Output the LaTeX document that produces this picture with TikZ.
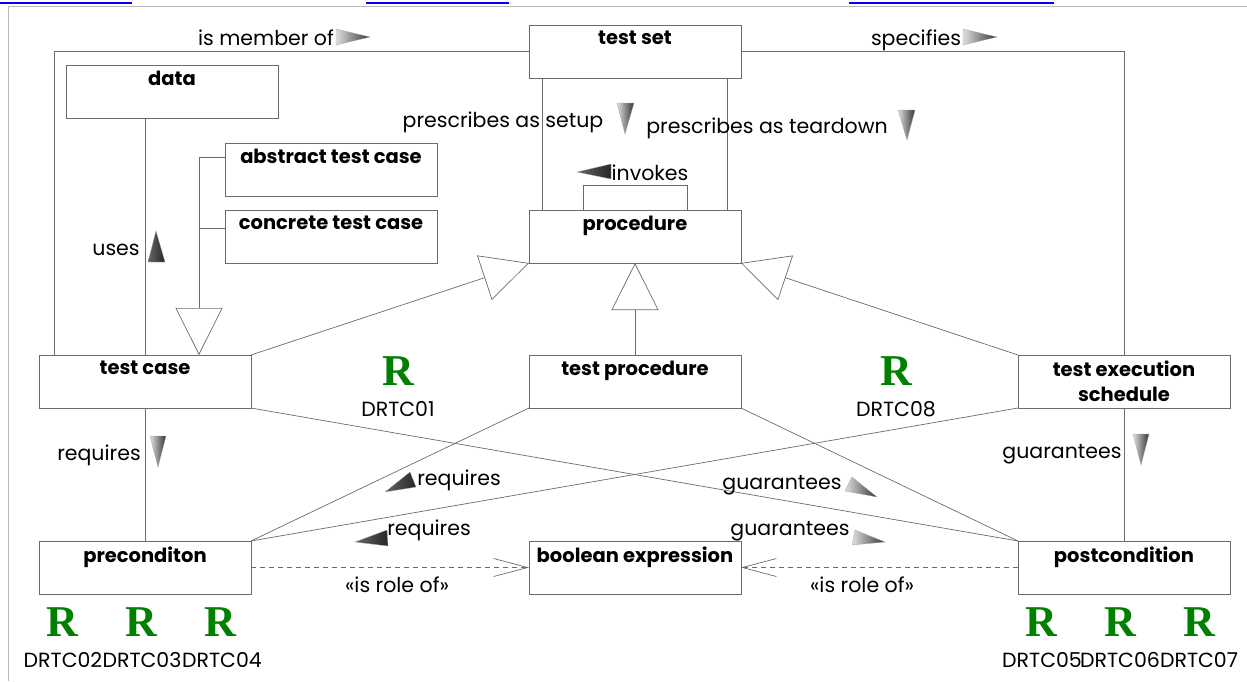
\documentclass[tikz,border=0pt]{standalone}
\usepackage{fontspec}
\setmainfont{Poppins}
\newfontfamily\rfont{Liberation Serif}
\usetikzlibrary{arrows.meta,calc}
\definecolor{lc}{gray}{0.42}
\definecolor{rgreen}{RGB}{0,128,0}
\begin{document}
\begin{tikzpicture}[x=1pt,y=-1pt,
  box/.style={draw=lc, line width=0.9pt, minimum width=212pt, minimum height=53pt, anchor=north west, inner sep=0pt, outer sep=0pt},
  ttl/.style={anchor=north, font=\fontsize{19.5}{25}\selectfont\bfseries, yshift=-6pt, align=center, inner sep=0pt},
  lbl/.style={font=\fontsize{20.5}{24}\selectfont, inner sep=0pt, text height=15pt, text depth=4pt, yshift=-2pt},
  conn/.style={draw=lc, line width=0.7pt},
  gen/.style={conn, -{Triangle[open, length=47pt, width=47pt, fill=white]}},
  role/.style={conn, dash pattern=on 5pt off 4pt, -{Straight Barb[length=34pt, width=18pt, line width=0.7pt]}},
  dirtri/.style={draw=gray!70, line width=0.3pt, left color=gray!25, right color=black!80},
  dirtrl/.style={draw=gray!70, line width=0.3pt, left color=black!60, right color=black!85},
  rmark/.style={text=rgreen, font=\rfont\bfseries\fontsize{44}{44}\selectfont, inner sep=0pt},
]
\useasboundingbox (0,0) rectangle (1247,681);
% page frame and cut-off links
\draw[gray!55, line width=1pt] (8,681) -- (8,6) -- (1247,6);
\draw[blue, line width=2pt] (0,3) -- (132,3) (366,3) -- (509,3) (849,3) -- (1054,3);

% boxes
\node[box, label={[ttl]north:test set}] (ts) at (529,25) {};
\node[box, label={[ttl]north:data}] (data) at (66,65) {};
\node[box, label={[ttl]north:abstract test case}] (abs) at (225,143) {};
\node[box, label={[ttl]north:concrete test case}] (conc) at (225,210) {};
\node[box, label={[ttl]north:procedure}] (proc) at (529,210) {};
\node[box, label={[ttl]north:test case}] (tc) at (39,355) {};
\node[box, label={[ttl]north:test procedure}] (tp) at (529,355) {};
\node[box, label={[ttl]north:{test execution\\schedule}}] (tes) at (1018,355) {};
\node[box, label={[ttl]north:preconditon}] (pre) at (39,541) {};
\node[box, label={[ttl]north:boolean expression}] (be) at (529,541) {};
\node[box, label={[ttl]north:postcondition}] (post) at (1018,541) {};

% associations
\draw[conn] ($(tc.north west)+(15,0)$) |- (ts.west);
\draw[conn] (ts.east) -| (tes.north);
\draw[conn] (tc.north) -- (tc.north |- data.south);
\draw[conn] ($(ts.south west)+(13,0)$) -- ($(proc.north west)+(13,0)$);
\draw[conn] ($(ts.south east)+(-14,0)$) -- ($(proc.north east)+(-14,0)$);
\draw[conn] ($(proc.north west)+(54,0)$) -- ++(0,-25) -| ($(proc.north west)+(158,0)$);
\draw[conn] (tc.south) -- (pre.north);
\draw[conn] (tes.south) -- (post.north);
\draw[conn] (tp.south west) -- (pre.north east);
\draw[conn] (tes.south west) -- (pre.north east);
\draw[conn] (tc.south east) -- (post.north west);
\draw[conn] (tp.south east) -- (post.north west);

% generalizations
\draw[gen] (tc.north east) -- (proc.south west);
\draw[gen] (tp.north) -- (proc.south);
\draw[gen] (tes.north west) -- (proc.south east);
\draw[gen] ($(abs.north west)+(0,14)$) -| ($(tc.north west)+(160,0)$);
\draw[conn] ($(conc.north west)+(0,18)$) -- ++(-26,0);

% is role of
\draw[role] (pre.east) -- (be.west);
\draw[role] (post.west) -- (be.east);

% labels
\node[lbl] (l1) at (266,38) {is member of};
\node[lbl] (l2) at (916,38) {specifies};
\node[lbl] (l3) at (503,120) {prescribes as setup};
\node[lbl] (l4) at (767,126) {prescribes as teardown};
\node[lbl] (l5) at (650,173) {invokes};
\node[lbl] (l6) at (116,248) {uses};
\node[lbl] (l7) at (99,453) {requires};
\node[lbl] (l8) at (1062,451) {guarantees};
\node[lbl] (l9) at (459,478) {requires};
\node[lbl] (l10) at (429,528) {requires};
\node[lbl] (l11) at (782,482) {guarantees};
\node[lbl] (l12) at (790,528) {guarantees};
\node[lbl] (l13) at (397,585) {«is role of»};
\node[lbl] (l14) at (862,585) {«is role of»};

% direction triangles
\path[dirtri] (336,29) -- (370,37) -- (336,45) -- cycle;
\path[dirtri] (963,29) -- (997,37) -- (963,45) -- cycle;
\path[dirtri] (617,103) -- (634,103) -- (625,134) -- cycle;
\path[dirtri] (898,110) -- (915,110) -- (907,140) -- cycle;
\path[dirtrl] (611,164) -- (577,172) -- (611,179) -- cycle;
\path[dirtrl] (148,262) -- (156,231) -- (165,262) -- cycle;
\path[dirtri] (150,436) -- (166,436) -- (158,467) -- cycle;
\path[dirtri] (1133,434) -- (1149,434) -- (1141,465) -- cycle;
\path[dirtrl] (385,492) -- (410,472) -- (416,487) -- cycle;
\path[dirtrl] (355,542) -- (387,530) -- (388,546) -- cycle;
\path[dirtri] (845,491) -- (852,477) -- (877,497) -- cycle;
\path[dirtri] (852,545) -- (855,530) -- (885,542) -- cycle;

% requirement marks
\node[rmark] (r1) at (398,371) {R};
\node[lbl] (d1) at (398,409) {DRTC01};
\node[rmark] (r8) at (896,371) {R};
\node[lbl] (d8) at (896,409) {DRTC08};
\node[rmark] (r2) at (62,622) {R};
\node[rmark] (r3) at (141,622) {R};
\node[rmark] (r4) at (220,622) {R};
\node[lbl] (d2) at (63,660) {DRTC02};
\node[lbl] (d3) at (142,660) {DRTC03};
\node[lbl] (d4) at (222,660) {DRTC04};
\node[rmark] (r5) at (1041,622) {R};
\node[rmark] (r6) at (1120,622) {R};
\node[rmark] (r7) at (1199,622) {R};
\node[lbl] (d5) at (1042,660) {DRTC05};
\node[lbl] (d6) at (1120,660) {DRTC06};
\node[lbl] (d7) at (1199,660) {DRTC07};
\end{tikzpicture}
\end{document}
